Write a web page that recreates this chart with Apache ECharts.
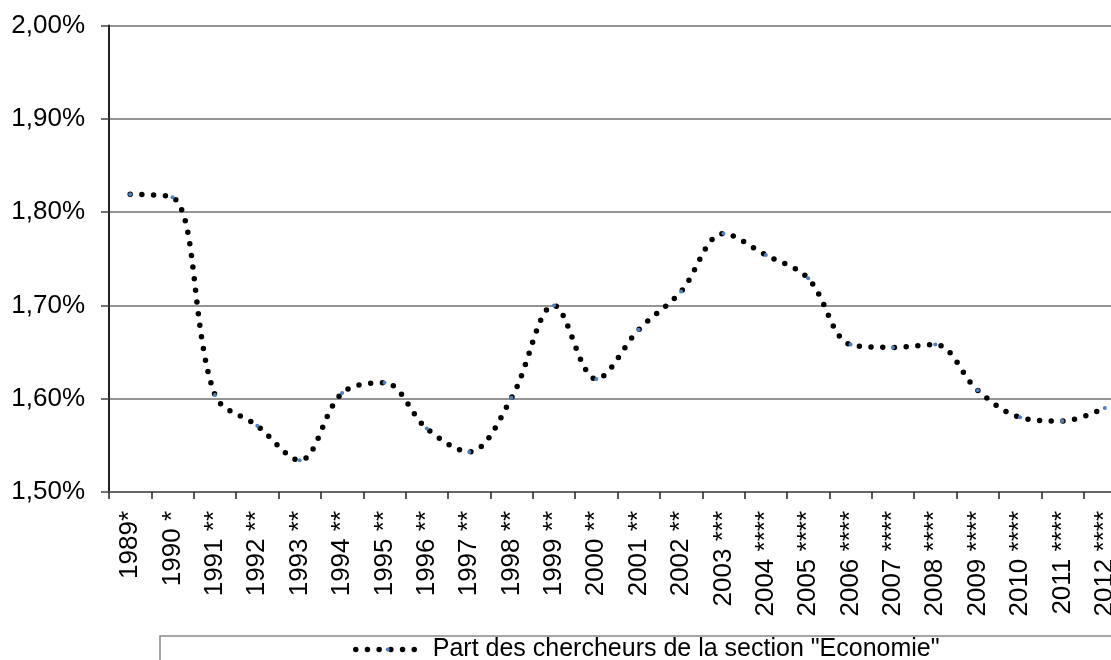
<!DOCTYPE html>
<html>
<head>
<meta charset="utf-8">
<script src="https://cdn.jsdelivr.net/npm/echarts@6/dist/echarts.min.js"></script>
<style>
  html, body { margin: 0; padding: 0; background: #fff; }
  #chart { width: 1111px; height: 660px; }
</style>
</head>
<body>
<div id="chart"></div>
<script>
// Years (asterisks mark the survey source of each year)
const categories = [
  '1989*', '1990 *', '1991 **', '1992 **', '1993 **', '1994 **', '1995 **',
  '1996 **', '1997 **', '1998 **', '1999 **', '2000 **', '2001 **', '2002 **',
  '2003 ***', '2004 ****', '2005 ****', '2006 ****', '2007 ****', '2008 ****',
  '2009 ****', '2010 ****', '2011 ****', '2012 ****'
];

// Share of researchers in the "Economie" section, in percent
const shareEconomie = [
  1.819, 1.816, 1.604, 1.571, 1.534, 1.606, 1.617,
  1.568, 1.543, 1.601, 1.700, 1.621, 1.674, 1.715,
  1.777, 1.754, 1.729, 1.658, 1.655, 1.658,
  1.609, 1.580, 1.576, 1.590
];

const seriesName = 'Part des chercheurs de la section "Economie"';

// Value axis bounds and step, in percent
const yMin = 1.5;
const yMax = 2.0;
const yStep = 0.1;

const fmtPct = v => v.toFixed(2).replace('.', ',') + '%';

const FONT = '"Liberation Sans", Arial, sans-serif';
const dotted = { color: '#000', width: 5.5, type: [0, 11.7], cap: 'round' };

const chart = echarts.init(document.getElementById('chart'), null, { renderer: 'canvas' });

chart.setOption({
  animation: false,
  backgroundColor: '#ffffff',
  textStyle: { fontFamily: FONT },
  // the plot runs a little past the right edge of the page
  grid: {
    left: 109, top: 25.5, width: 1017, height: 466.5,
    containLabel: false,
    outerBoundsMode: 'none'
  },
  xAxis: {
    type: 'category',
    data: categories,
    boundaryGap: true,
    axisLine: { show: true, lineStyle: { color: '#666', width: 2 } },
    axisTick: { show: true, alignWithLabel: false, length: 7, lineStyle: { color: '#222', width: 1.5 } },
    axisLabel: {
      interval: 0,
      rotate: 90,
      margin: 19,
      color: '#000',
      fontSize: 26,
      fontFamily: FONT
    },
    splitLine: { show: false }
  },
  yAxis: {
    type: 'value',
    min: yMin,
    max: yMax,
    interval: yStep,
    axisLine: { show: true, lineStyle: { color: '#222', width: 2 } },
    axisTick: { show: true, inside: false, length: 8, lineStyle: { color: '#444', width: 1.5 } },
    axisLabel: {
      formatter: fmtPct,
      margin: 24,
      color: '#000',
      fontSize: 26,
      fontFamily: FONT
    },
    splitLine: { show: true, lineStyle: { color: '#707070', width: 1.6 } }
  },
  legend: {
    show: true,
    left: 160,
    top: 636,
    orient: 'horizontal',
    padding: [1, 400, 20, 193],
    borderColor: '#888',
    borderWidth: 1.5,
    itemWidth: 64,
    itemHeight: 5,
    lineStyle: dotted,
    textStyle: {
      color: '#000',
      fontSize: 25,
      padding: [0, 0, 0, 8],
      fontFamily: FONT
    },
    data: [seriesName]
  },
  series: [{
    name: seriesName,
    type: 'line',
    data: shareEconomie,
    smooth: 0.35,
    symbol: 'circle',
    symbolSize: 4,
    showSymbol: true,
    itemStyle: { color: '#4F81BD' },
    lineStyle: dotted,
    z: 2
  }]
});
</script>
</body>
</html>
